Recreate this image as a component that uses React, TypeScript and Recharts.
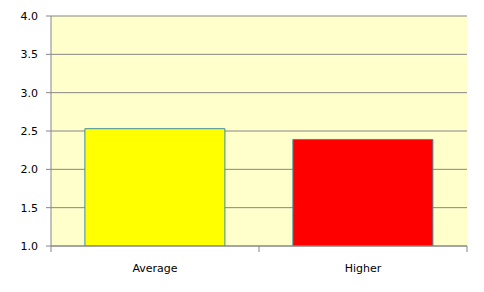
import { BarChart, Bar, XAxis, YAxis, CartesianGrid, Cell } from "recharts"

const categories = ["Average", "Higher"]
const values = [2.53, 2.39]
const barColors = ["#FFFF00", "#FF0000"]
const yTicks = [1.0, 1.5, 2.0, 2.5, 3.0, 3.5, 4.0]
const edgeTicks = [0, 1, 2]

// slot = category index + 0.5, used by the boundary tick axis only
const data = categories.map((name, i) => ({ name, value: values[i], slot: i + 0.5 }))

const axisColor = "#868686"
const tickStyle = { fontFamily: "DejaVu Sans, Verdana, sans-serif", fontSize: 11, fill: "#000" }

export default function App() {
  return (
    <div style={{ position: "absolute", left: 0, top: 0, background: "#fff" }}>
      <BarChart
        width={484}
        height={292}
        data={data}
        margin={{ top: 16, right: 17, bottom: 0, left: 0 }}
        barCategoryGap="16.3%"
      >
        <CartesianGrid xAxisId="b" fill="#FFFFCC" vertical={false} stroke={axisColor} strokeDasharray="" />
        <XAxis
          xAxisId="a"
          dataKey="slot"
          type="number"
          domain={[0, 2]}
          ticks={edgeTicks}
          interval={0}
          height={1}
          tick={tickStyle}
          tickFormatter={() => ""}
          tickSize={6}
          axisLine={{ stroke: axisColor }}
          tickLine={{ stroke: axisColor }}
        />
        <XAxis
          xAxisId="b"
          dataKey="name"
          height={45}
          axisLine={false}
          tickLine={false}
          tickSize={6}
          tickMargin={11}
          tick={tickStyle}
        />
        <YAxis
          width={51}
          domain={[1, 4]}
          ticks={yTicks}
          tickFormatter={(v: number) => v.toFixed(1)}
          tickSize={5}
          tickMargin={8}
          axisLine={{ stroke: axisColor }}
          tickLine={{ stroke: axisColor }}
          tick={tickStyle}
          allowDataOverflow
        />
        <Bar xAxisId="b" dataKey="value" stroke="#3b8ea5" strokeWidth={1} isAnimationActive={false}>
          {data.map((entry, index) => (
            <Cell key={`cell-${index}`} fill={barColors[index]} />
          ))}
        </Bar>
      </BarChart>
    </div>
  )
}
